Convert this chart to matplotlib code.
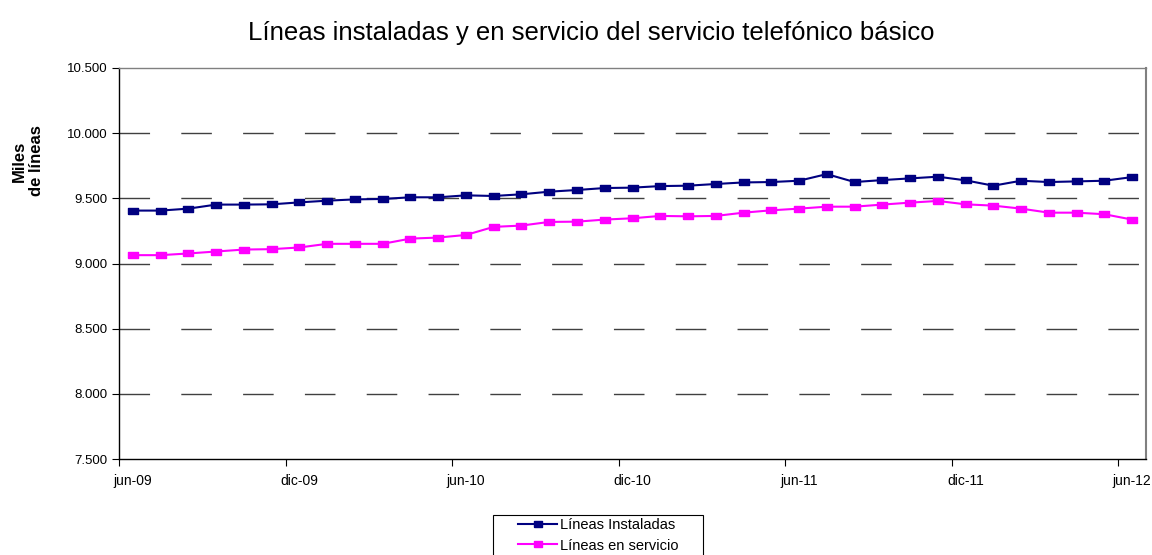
import matplotlib
matplotlib.use("Agg")
import matplotlib.pyplot as plt
from matplotlib.patches import Rectangle
import numpy as np

plt.rcParams['font.family'] = ['Liberation Sans', 'DejaVu Sans']

title = "Líneas instaladas y en servicio del servicio telefónico básico"
ylabel = "Miles\nde líneas"
series_names = ["Líneas Instaladas", "Líneas en servicio"]
tick_labels = ["jun-09", "dic-09", "jun-10", "dic-10", "jun-11", "dic-11", "jun-12"]

instaladas = [9406, 9406, 9421, 9452, 9452, 9454, 9469, 9482, 9492, 9495, 9508, 9508,
              9523, 9518, 9531, 9551, 9564, 9579, 9582, 9594, 9597, 9610, 9622, 9625,
              9635, 9686, 9625, 9640, 9653, 9666, 9638, 9597, 9635, 9625, 9630, 9635,
              9663]
en_servicio = [9064, 9064, 9077, 9092, 9107, 9110, 9123, 9151, 9151, 9151, 9191, 9199,
               9219, 9281, 9291, 9319, 9321, 9337, 9347, 9365, 9362, 9365, 9390, 9408,
               9421, 9436, 9436, 9452, 9467, 9480, 9454, 9444, 9421, 9390, 9390, 9378,
               9337]

yticks = [7500, 8000, 8500, 9000, 9500, 10000, 10500]
ytick_labels = ["7.500", "8.000", "8.500", "9.000", "9.500", "10.000", "10.500"]

W, H = 1152, 555
fig = plt.figure(figsize=(W / 100, H / 100), dpi=100)
ax = fig.add_axes([119/W, 1-459/H, (1146-119)/W, (459-68)/H])

x = np.arange(len(instaladas))
rect = [(-1, -0.62), (1, -0.62), (1, 0.62), (-1, 0.62), (-1, -0.62)]
ax.plot(x, instaladas, color="#000080", lw=1.5, marker=rect, ms=7.5,
        mec="#000080", mfc="#000080", label=series_names[0], zorder=3)
ax.plot(x, en_servicio, color="#FF00FF", lw=1.5, marker=rect, ms=7.5,
        mec="#FF00FF", mfc="#FF00FF", label=series_names[1], zorder=3)

ax.set_xlim(-0.5, len(instaladas) - 0.5)
ax.set_ylim(7500, 10500)

ax.set_yticks(yticks)
ax.set_yticklabels(ytick_labels, fontsize=9.5)
ax.tick_params(axis='y', direction='out', length=5, width=0.8, pad=3, color='black')

ax.set_xticks(np.arange(-0.5, len(instaladas) - 1, 6))
ax.set_xticklabels([])
ax.tick_params(axis='x', which='major', direction='out', length=5, width=0.8, color='black')
ax.set_xticks(np.arange(0, len(instaladas), 6), minor=True)
ax.set_xticklabels(tick_labels, minor=True, fontsize=10)
ax.tick_params(axis='x', which='minor', length=0, pad=10.5)

for yv in yticks[1:-1]:
    ax.axhline(yv, color="#404040", lw=1.0, dashes=(22, 22.5), zorder=1)

ax.spines['left'].set_color('black')
ax.spines['bottom'].set_color('black')
ax.spines['left'].set_linewidth(1.0)
ax.spines['bottom'].set_linewidth(1.0)
ax.spines['top'].set_color('#808080')
ax.spines['right'].set_color('#808080')
ax.spines['top'].set_linewidth(1.0)
ax.spines['right'].set_linewidth(1.5)

fig.text(591/W, 1-33/H, title, ha='center', va='center', fontsize=18.5)
fig.text(28/W, 1-161/H, ylabel, ha='center', va='center', rotation=90,
         fontsize=12, fontweight='bold', linespacing=1.2, multialignment='center')

# legend frame (extends past the bottom edge, as in the reference)
fig.patches.append(Rectangle((493/W, -0.05), (703-493)/W, (1-515/H) + 0.05,
                             transform=fig.transFigure, fill=True, facecolor='white',
                             edgecolor='black', lw=0.8, zorder=1))
leg = fig.legend(loc='upper left', bbox_to_anchor=(518/W, 1-518/H),
                 fontsize=10.5, frameon=False, borderpad=0, borderaxespad=0,
                 handlelength=2.7, handletextpad=0.15, labelspacing=0.45,
                 markerscale=0.8)
leg.set_zorder(2)

fig.savefig("out.png", dpi=100)
